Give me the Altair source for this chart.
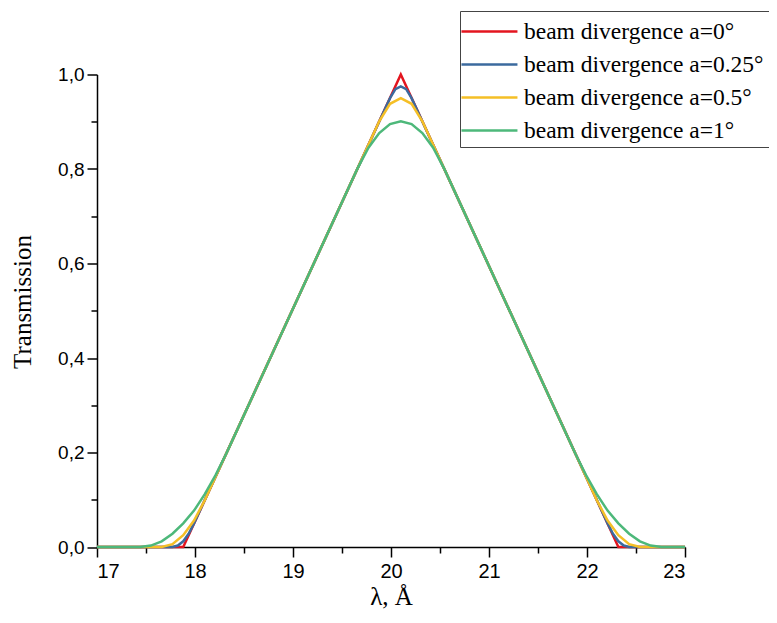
import altair as alt
import pandas as pd

# --- data ---
series_names = [
    "beam divergence a=0°",
    "beam divergence a=0.25°",
    "beam divergence a=0.5°",
    "beam divergence a=1°",
]
series_colors = ["#e3151f", "#3b6a9e", "#f5bf26", "#4db87a"]

x_red = [17.0, 17.88, 20.1, 22.32, 23.0]
y_red = [0.0, 0.0, 1.0, 0.0, 0.0]

x_blue = [17.0, 17.77, 17.825, 17.88, 17.935, 17.99, 19.99, 20.045, 20.1,
          20.155, 20.21, 22.21, 22.265, 22.32, 22.375, 22.43, 23.0]
y_blue = [0.0, 0.0, 0.003, 0.012, 0.028, 0.050, 0.950, 0.969, 0.975,
          0.969, 0.950, 0.050, 0.028, 0.012, 0.003, 0.0, 0.0]

x_yellow = [17.0, 17.66, 17.77, 17.88, 17.99, 18.10, 19.88, 19.99, 20.1,
            20.21, 20.32, 22.10, 22.21, 22.32, 22.43, 22.54, 23.0]
y_yellow = [0.0, 0.0, 0.006, 0.025, 0.056, 0.099, 0.901, 0.938, 0.950,
            0.938, 0.901, 0.099, 0.056, 0.025, 0.006, 0.0, 0.0]

x_green = [17.0, 17.44, 17.55, 17.66, 17.77, 17.88, 17.99, 18.10, 18.21, 18.32,
           19.66, 19.77, 19.88, 19.99, 20.1, 20.21, 20.32, 20.43, 20.54,
           21.88, 21.99, 22.10, 22.21, 22.32, 22.43, 22.54, 22.65, 22.76, 23.0]
y_green = [0.0, 0.0, 0.003, 0.012, 0.028, 0.050, 0.077, 0.112, 0.152, 0.198,
           0.802, 0.845, 0.876, 0.895, 0.901, 0.895, 0.876, 0.845, 0.802,
           0.198, 0.152, 0.112, 0.077, 0.050, 0.028, 0.012, 0.003, 0.0, 0.0]

x_ticks = [17, 17.5, 18, 18.5, 19, 19.5, 20, 20.5, 21, 21.5, 22, 22.5, 23]
y_ticks = [0.0, 0.1, 0.2, 0.3, 0.4, 0.5, 0.6, 0.7, 0.8, 0.9, 1.0]

all_x = [x_red, x_blue, x_yellow, x_green]
all_y = [y_red, y_blue, y_yellow, y_green]

frames = []
for name, xs, ys in zip(series_names, all_x, all_y):
    frames.append(pd.DataFrame({"lam": xs, "T": ys, "series": name}))
df = pd.concat(frames, ignore_index=True)

color_scale = alt.Scale(domain=series_names, range=series_colors)

x_enc = alt.X(
    "lam:Q",
    scale=alt.Scale(domain=[17, 23], nice=False, zero=False),
    axis=alt.Axis(
        values=x_ticks,
        title="λ, Å",
        labelExpr="datum.value % 1 == 0 ? format(datum.value, 'd') : ''",
        tickSize={"condition": {"test": "datum.value % 1 == 0", "value": 10}, "value": 6},
        labelFontSize=20,
        labelPadding=4,
        titleFont="Liberation Serif",
        titleFontSize=25,
        titleFontWeight="normal",
        titleY=57,
        titleBaseline="alphabetic",
        grid=False,
    ),
)
y_enc = alt.Y(
    "T:Q",
    scale=alt.Scale(domain=[0, 1.0], nice=False),
    axis=alt.Axis(
        values=y_ticks,
        title="Transmission",
        labelExpr="round(datum.value*10) % 2 == 0 ? replace(format(datum.value, '.1f'), '.', ',') : ''",
        tickSize={"condition": {"test": "round(datum.value*10) % 2 == 0", "value": 10}, "value": 6},
        labelFontSize=19,
        labelPadding=3,
        titleFont="Liberation Serif",
        titleFontSize=25,
        titleFontWeight="normal",
        titleX=-75,
        titleY=227,
        titleAngle=-90,
        titleBaseline="middle",
        grid=False,
    ),
)

layers = []
for name in series_names:
    layers.append(
        alt.Chart(df)
        .transform_filter(alt.datum.series == name)
        .mark_line(strokeWidth=2.5, interpolate="linear")
        .encode(
            x=x_enc,
            y=y_enc,
            color=alt.Color(
                "series:N",
                scale=color_scale,
                legend=alt.Legend(
                    title=None,
                    orient="none",
                    legendX=363,
                    legendY=-63.5,
                    strokeColor="#444444",
                    fillColor="white",
                    padding=5,
                    symbolType="M-1.36,0H2.64",
                    symbolSize=784,
                    symbolStrokeWidth=2.5,
                    labelFont="Liberation Serif",
                    labelFontSize=23.5,
                    labelColor="black",
                    labelOffset=28,
                    rowPadding=6,
                    labelLimit=400,
                ),
            ),
        )
    )

chart = (
    alt.layer(*layers)
    .properties(
        width=588,
        height=472.5,
        autosize=alt.AutoSizeParams(type="none"),
        padding={"left": 89, "top": 66.5, "right": 84, "bottom": 63},
        background="white",
    )
    .configure_view(stroke=None)
    .configure_axis(
        domainColor="black",
        domainWidth=1.5,
        tickColor="black",
        tickWidth=1.5,
        labelFont="Liberation Sans",
        labelColor="black",
        titleColor="black",
    )
)

chart.save("out.html", embed_options={"renderer": "svg", "actions": False})
